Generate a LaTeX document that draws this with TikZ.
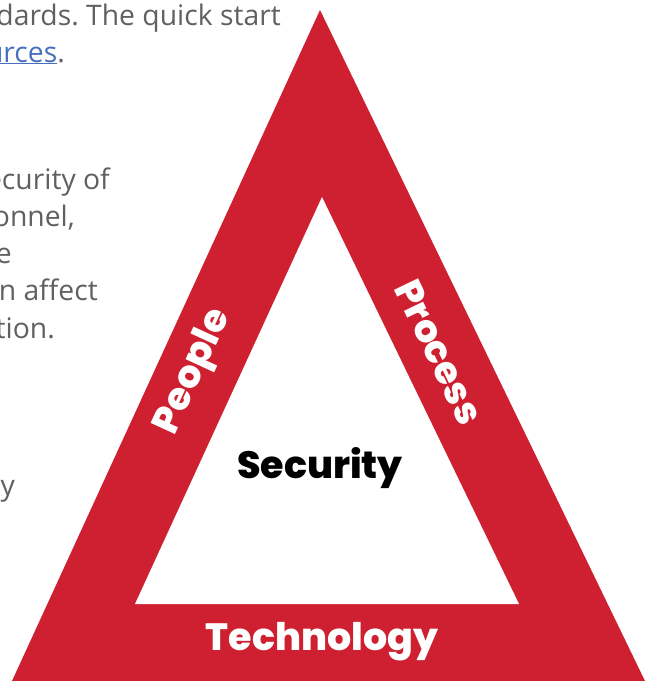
\documentclass[tikz,border=0pt]{standalone}
\usepackage{fontspec}
\setmainfont{Open Sans}
\newfontfamily\labelfont{Poppins}[BoldFont={Poppins ExtraBold}]
\definecolor{trired}{RGB}{207,32,49}
\definecolor{bodygray}{RGB}{96,96,96}
\definecolor{linkblue}{RGB}{70,112,190}
\frenchspacing
\begin{document}
\begin{tikzpicture}[x=1pt,y=-1pt,
    body/.style={anchor=base east,inner sep=0pt,text=bodygray,font=\fontsize{28.3}{28.3}\selectfont},
    side/.style={text=white,inner sep=0pt,font=\labelfont\bfseries\fontsize{38}{38}\selectfont}]
    \useasboundingbox (0,0) rectangle (647,681);
    \clip (0,0) rectangle (647,681);
    \coordinate (outtop) at (320,10);
    \coordinate (outleft) at (12,681);
    \coordinate (outright) at (645,681);
    \coordinate (intop) at (322,197);
    \coordinate (inleft) at (135,604);
    \coordinate (inright) at (519,604);
    \fill [trired] (outtop) -- (outleft) -- (outright) -- cycle;
    \fill [white] (intop) -- (inleft) -- (inright) -- cycle;
    \node [body] (txta) at (281,25) {dards. The quick start};
    \node [body] (txtb) at (65,62) {\textcolor{linkblue}{\underline{urces}}.};
    \node [body] (txtc) at (110,189) {ecurity of};
    \node [body] (txtd) at (75,226) {onnel,};
    \node [body] (txte) at (12,263) {e};
    \node [body] (txtf) at (98,300) {n affect};
    \node [body] (txtg) at (55,338) {tion.};
    \node [body] (txth) at (15,495) {ty};
    \node [side,rotate=65.3] (people) at (194,372) {People};
    \node [side,rotate=-64.2] (process) at (439,352) {Process};
    \node [side] (tech) at (322,642) {Technology};
    \node [side,text=black] (sec) at (320,468) {Security};
\end{tikzpicture}
\end{document}
